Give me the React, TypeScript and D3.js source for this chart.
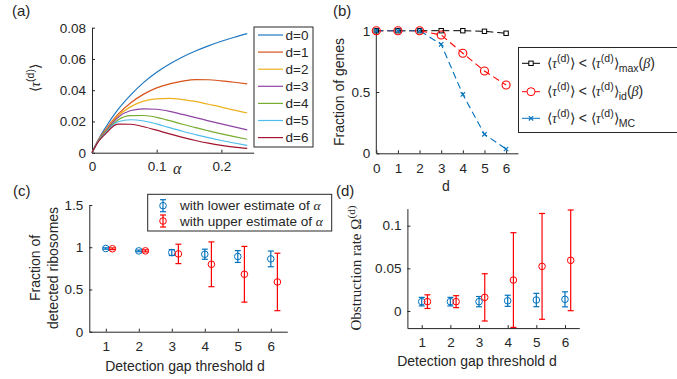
import { useEffect, useRef } from "react";
import * as d3 from "d3";

// ---- panel (a): <tau^(d)> vs alpha
const alphaGrid = [0, 0.01, 0.02, 0.04, 0.06, 0.08, 0.1, 0.12, 0.14, 0.16, 0.18, 0.2, 0.22, 0.24];
const tauD0 = [0, 0.0085, 0.0155, 0.0275, 0.037, 0.045, 0.0515, 0.0568, 0.0613, 0.0651, 0.0684, 0.0713, 0.0739, 0.0762];
const tauD1 = [0, 0.0082, 0.0142, 0.0245, 0.032, 0.0375, 0.0415, 0.044, 0.0458, 0.0468, 0.0467, 0.046, 0.0451, 0.0441];
const tauD2 = [0, 0.008, 0.0137, 0.0235, 0.0295, 0.033, 0.0345, 0.0348, 0.034, 0.0328, 0.031, 0.0292, 0.0272, 0.0254];
const tauD3 = [0, 0.0078, 0.0132, 0.0225, 0.027, 0.0281, 0.0278, 0.0265, 0.0245, 0.0225, 0.0204, 0.0184, 0.0165, 0.0146];
const tauD4 = [0, 0.0076, 0.0127, 0.021, 0.0237, 0.0238, 0.0226, 0.0205, 0.0182, 0.016, 0.014, 0.0121, 0.0103, 0.0086];
const tauD5 = [0, 0.0074, 0.0122, 0.0198, 0.0211, 0.0203, 0.0184, 0.016, 0.0137, 0.0116, 0.0096, 0.0078, 0.0062, 0.0047];
const tauD6 = [0, 0.0072, 0.0117, 0.0183, 0.0182, 0.0166, 0.0144, 0.012, 0.0098, 0.0078, 0.0061, 0.0047, 0.0036, 0.0028];
const tauSeries = [tauD0, tauD1, tauD2, tauD3, tauD4, tauD5, tauD6];
const tauNames = ["d=0", "d=1", "d=2", "d=3", "d=4", "d=5", "d=6"];
const tauColors = ["#1f78c1", "#d95319", "#edb120", "#8e44a3", "#77ac30", "#4dbeee", "#a2142f"];
const alphaTicks = [0, 0.1, 0.2];
const tauTicks = [0, 0.02, 0.04, 0.06, 0.08];

// ---- panel (b): fraction of genes vs d
const dValues = [0, 1, 2, 3, 4, 5, 6];
const fracMax = [1, 1, 1, 1, 1, 0.995, 0.979];
const fracId = [1, 1, 1, 0.965, 0.816, 0.671, 0.557];
const fracMC = [1, 1, 1, 0.889, 0.48, 0.155, 0.035];
const fracTicks = [0, 0.5, 1];

// ---- panels (c), (d): vs detection gap threshold
const thresholds = [1, 2, 3, 4, 5, 6];
const lowerDetected = [0.985, 0.957, 0.937, 0.917, 0.89, 0.862];
const lowerDetectedErr = [0.008, 0.01, 0.035, 0.06, 0.07, 0.093];
const upperDetected = [0.982, 0.957, 0.921, 0.798, 0.68, 0.589];
const upperDetectedErr = [0.01, 0.012, 0.115, 0.265, 0.33, 0.34];
const detectedTicks = [0, 0.5, 1, 1.5];
const lowerOmega = [0.011, 0.011, 0.011, 0.012, 0.0129, 0.0137];
const lowerOmegaErr = [0.005, 0.005, 0.006, 0.0065, 0.0078, 0.0088];
const upperOmega = [0.011, 0.011, 0.016, 0.0363, 0.0523, 0.0594];
const upperOmegaErr = [0.008, 0.007, 0.0277, 0.0555, 0.062, 0.059];
const omegaTicks = [0, 0.05, 0.1];

const FONT = "Liberation Sans, Arial, sans-serif";
const SERIF = "Liberation Serif, Times New Roman, serif";
const INK = "#262626";
const BLUE = "#0072bd";
const RED = "#ff0000";

type Sel = d3.Selection<any, unknown, null, undefined>;
type Part = { t: string; k?: "it" | "sup" | "sub" };

// writes text made of normal / italic / super / subscript pieces
const rich = (txt: Sel, parts: Part[], size: number) => {
	let shift = 0;
	parts.forEach((p) => {
		const target = p.k === "sup" ? -size * 0.42 : p.k === "sub" ? size * 0.3 : 0;
		const ts = txt.append("tspan").attr("dy", target - shift).text(p.t);
		shift = target;
		if (p.k === "it") ts.attr("font-family", SERIF).attr("font-style", "italic");
		if (p.k === "sup" || p.k === "sub") ts.attr("font-size", size * 0.75);
	});
};

const axes = (
	g: Sel,
	x: d3.ScaleLinear<number, number>,
	y: d3.ScaleLinear<number, number>,
	xt: number[],
	yt: number[],
	xfmt: (v: number) => string,
	yfmt: (v: number) => string,
	xpad: number
) => {
	const [y0] = y.range();
	const [x0] = x.range();
	const xa = g
		.append("g")
		.attr("transform", `translate(0,${y0})`)
		.call(d3.axisBottom(x).tickValues(xt).tickFormat(xfmt as any).tickSizeInner(-3).tickSizeOuter(0).tickPadding(xpad));
	const ya = g
		.append("g")
		.attr("transform", `translate(${x0},0)`)
		.call(d3.axisLeft(y).tickValues(yt).tickFormat(yfmt as any).tickSizeInner(-3).tickSizeOuter(0).tickPadding(6));
	[xa, ya].forEach((a) => {
		a.attr("color", INK).attr("font-family", FONT).attr("font-size", 13.5);
		a.selectAll("text").attr("fill", INK);
		a.select(".domain").attr("stroke-width", 1);
	});
	return ya;
};

const errorBars = (g: Sel, x: any, y: any, xs: number[], vals: number[], errs: number[], off: number, color: string) => {
	xs.forEach((d, i) => {
		const cx = x(d + off);
		const top = y(vals[i] + errs[i]);
		const bot = y(vals[i] - errs[i]);
		const eg = g.append("g").attr("stroke", color).attr("fill", "none").attr("stroke-width", 1.2);
		eg.append("line").attr("x1", cx).attr("x2", cx).attr("y1", top).attr("y2", bot);
		eg.append("line").attr("x1", cx - 3).attr("x2", cx + 3).attr("y1", top).attr("y2", top);
		eg.append("line").attr("x1", cx - 3).attr("x2", cx + 3).attr("y1", bot).attr("y2", bot);
		eg.append("circle").attr("cx", cx).attr("cy", y(vals[i])).attr("r", 3.3).attr("stroke-width", 1);
	});
};

const Figure = () => {
	const svgRef = useRef<SVGSVGElement>(null);

	useEffect(() => {
		if (!svgRef.current) return;
		const svg = d3.select(svgRef.current);
		svg.selectAll("*").remove();

		const label = (x: number, y: number, t: string, size = 15, anchor = "start") =>
			svg
				.append("text")
				.attr("x", x)
				.attr("y", y)
				.attr("font-family", FONT)
				.attr("font-size", size)
				.attr("fill", INK)
				.attr("text-anchor", anchor)
				.text(t);

		label(12, 16, "(a)");
		label(333, 16, "(b)");
		label(13, 196, "(c)");
		label(336, 196, "(d)");

		// ---------- (a)
		{
			const x = d3.scaleLinear().domain([0, 0.25]).range([92, 253.7]);
			const y = d3.scaleLinear().domain([0, 0.08]).range([152.7, 27.7]);
			const g = svg.append("g");
			axes(g, x, y, alphaTicks, tauTicks, (v) => (v === 0 ? "0" : String(v)), (v) => (v === 0 ? "0" : v.toFixed(2)), 9);
			const line = d3
				.line<number>()
				.x((_v, i) => x(alphaGrid[i]))
				.y((v) => y(v))
				.curve(d3.curveMonotoneX);
			tauSeries.forEach((s, i) => {
				g.append("path").attr("d", line(s)).attr("fill", "none").attr("stroke", tauColors[i]).attr("stroke-width", 1.2);
			});
			svg
				.append("text")
				.attr("x", 173)
				.attr("y", 174)
				.attr("font-family", SERIF)
				.attr("font-style", "italic")
				.attr("font-size", 16)
				.attr("fill", INK)
				.text("α");
			const yl = svg
				.append("text")
				.attr("transform", "translate(40,78) rotate(-90)")
				.attr("text-anchor", "middle")
				.attr("font-family", FONT)
				.attr("font-size", 14)
				.attr("fill", INK);
			rich(yl, [{ t: "⟨" }, { t: "τ", k: "it" }, { t: "(d)", k: "sup" }, { t: "⟩" }], 14);

			const lg = svg.append("g");
			lg.append("rect").attr("x", 254).attr("y", 27).attr("width", 59).attr("height", 120).attr("fill", "white").attr("stroke", INK).attr("stroke-width", 1);
			tauNames.forEach((n, i) => {
				const ly = 35 + i * 17.1;
				lg.append("line").attr("x1", 258).attr("x2", 283).attr("y1", ly).attr("y2", ly).attr("stroke", tauColors[i]).attr("stroke-width", 1.2);
				lg.append("text").attr("x", 285.5).attr("y", ly + 4.8).attr("font-family", FONT).attr("font-size", 13.5).attr("fill", INK).text(n);
			});
		}

		// ---------- (b)
		{
			const x = d3.scaleLinear().domain([0, 6.55]).range([376.3, 518]);
			const y = d3.scaleLinear().domain([0, 1]).range([153.3, 30.7]);
			const g = svg.append("g");
			const ya = axes(g, x, y, dValues, fracTicks, (v) => String(v), (v) => String(v), 10);
			ya.select(".domain").attr("d", "M0,153.3V28");
			const line = d3
				.line<number>()
				.x((_v, i) => x(dValues[i]))
				.y((v) => y(v));
			g.append("path").attr("d", line(fracMax)).attr("fill", "none").attr("stroke", "#000").attr("stroke-width", 1).attr("stroke-dasharray", "7,4");
			g.append("path").attr("d", line(fracId)).attr("fill", "none").attr("stroke", RED).attr("stroke-width", 1.1).attr("stroke-dasharray", "7,4");
			g.append("path").attr("d", line(fracMC)).attr("fill", "none").attr("stroke", BLUE).attr("stroke-width", 1.1).attr("stroke-dasharray", "7,4");
			fracMax.forEach((v, i) => {
				g.append("rect").attr("x", x(dValues[i]) - 2.2).attr("y", y(v) - 2.2).attr("width", 4.4).attr("height", 4.4).attr("fill", "none").attr("stroke", "#000").attr("stroke-width", 1);
			});
			fracId.forEach((v, i) => {
				g.append("circle").attr("cx", x(dValues[i])).attr("cy", y(v)).attr("r", 4).attr("fill", "none").attr("stroke", RED).attr("stroke-width", 1.1);
			});
			fracMC.forEach((v, i) => {
				const cx = x(dValues[i]);
				const cy = y(v);
				g.append("path").attr("d", `M${cx - 2.2},${cy - 2.2}L${cx + 2.2},${cy + 2.2}M${cx - 2.2},${cy + 2.2}L${cx + 2.2},${cy - 2.2}`).attr("stroke", BLUE).attr("stroke-width", 1.1);
			});
			label(446, 191, "d", 14, "middle");
			label(0, 0, "Fraction of genes", 14, "middle").attr("x", null).attr("y", null).attr("transform", "translate(344,92) rotate(-90)");

			const lg = svg.append("g");
			lg.append("rect").attr("x", 518.5).attr("y", 47.5).attr("width", 170).attr("height", 85).attr("fill", "white").attr("stroke", INK).attr("stroke-width", 1);
			const rowsY = [63.3, 91.7, 118.3];
			const subs = ["max", "id", "MC"];
			const cols = ["#000", RED, BLUE];
			rowsY.forEach((ry, i) => {
				lg.append("line").attr("x1", 522).attr("x2", 540).attr("y1", ry).attr("y2", ry).attr("stroke", cols[i]).attr("stroke-width", 1);
				if (i === 0) lg.append("rect").attr("x", 528.8).attr("y", ry - 2.2).attr("width", 4.4).attr("height", 4.4).attr("fill", "white").attr("stroke", "#000");
				if (i === 1) lg.append("circle").attr("cx", 531).attr("cy", ry).attr("r", 4).attr("fill", "white").attr("stroke", RED);
				if (i === 2)
					lg.append("path").attr("d", `M528.8,${ry - 2.2}L533.2,${ry + 2.2}M528.8,${ry + 2.2}L533.2,${ry - 2.2}`).attr("stroke", BLUE).attr("stroke-width", 1.1);
				const t = lg.append("text").attr("x", 547).attr("y", ry + 4.5).attr("font-family", FONT).attr("font-size", 14).attr("fill", INK);
				const parts: Part[] = [
					{ t: "⟨" },
					{ t: "τ", k: "it" },
					{ t: "(d)", k: "sup" },
					{ t: "⟩ < ⟨" },
					{ t: "τ", k: "it" },
					{ t: "(d)", k: "sup" },
					{ t: "⟩" },
					{ t: subs[i], k: "sub" },
				];
				if (i < 2) parts.push({ t: "(" }, { t: "β", k: "it" }, { t: ")" });
				rich(t, parts, 14);
			});
		}

		// ---------- (c)
		{
			const x = d3.scaleLinear().domain([0.5, 6.5]).range([89.3, 287.3]);
			const y = d3.scaleLinear().domain([0, 1.5]).range([331.7, 205]);
			const g = svg.append("g");
			axes(g, x, y, thresholds, detectedTicks, (v) => String(v), (v) => String(v), 10);
			errorBars(g, x, y, thresholds, lowerDetected, lowerDetectedErr, 0, BLUE);
			errorBars(g, x, y, thresholds, upperDetected, upperDetectedErr, 0.2, RED);
			label(185, 371, "Detection gap threshold d", 14, "middle");
			label(0, 0, "Fraction of", 14, "middle").attr("x", null).attr("y", null).attr("transform", "translate(40,268) rotate(-90)");
			label(0, 0, "detected ribosomes", 14, "middle").attr("x", null).attr("y", null).attr("transform", "translate(58,268) rotate(-90)");

			const lg = svg.append("g");
			lg.append("rect").attr("x", 147.7).attr("y", 194.3).attr("width", 184).attr("height", 36.7).attr("fill", "white").attr("stroke", INK).attr("stroke-width", 1);
			const ly = d3.scaleLinear().domain([0, 1]).range([0, -1]);
			[
				{ c: BLUE, y: 205.7, t: "with lower estimate of " },
				{ c: RED, y: 221, t: "with upper estimate of " },
			].forEach((e) => {
				const eg = lg.append("g").attr("transform", `translate(0,${e.y})`);
				errorBars(eg, () => 163, ly, [0], [0], [6], 0, e.c);
				const t = lg.append("text").attr("x", 180).attr("y", e.y + 4.6).attr("font-family", FONT).attr("font-size", 13.5).attr("fill", INK);
				rich(t, [{ t: e.t }, { t: "α", k: "it" }], 13.5);
			});
		}

		// ---------- (d)
		{
			const x = d3.scaleLinear().domain([0.5, 6.5]).range([407.4, 579.3]);
			const y = d3.scaleLinear().domain([-0.02, 0.12]).range([328.1, 208.6]);
			const g = svg.append("g");
			axes(g, x, y, thresholds, omegaTicks, (v) => String(v), (v) => (v === 0 ? "0" : String(v)), 9);
			errorBars(g, x, y, thresholds, lowerOmega, lowerOmegaErr, 0, BLUE);
			errorBars(g, x, y, thresholds, upperOmega, upperOmegaErr, 0.2, RED);
			label(477, 366, "Detection gap threshold d", 14, "middle");
			const yl = svg
				.append("text")
				.attr("transform", "translate(361,268) rotate(-90)")
				.attr("text-anchor", "middle")
				.attr("font-family", SERIF)
				.attr("font-size", 15)
				.attr("fill", INK);
			rich(yl, [{ t: "Obstruction rate Ω" }, { t: "(d)", k: "sup" }], 15);
		}
	}, []);

	return (
		<svg
			ref={svgRef}
			width={677}
			height={379}
			style={{ position: "absolute", left: 0, top: 0, background: "white" }}
		></svg>
	);
};

export default function App() {
	return <Figure />;
}
